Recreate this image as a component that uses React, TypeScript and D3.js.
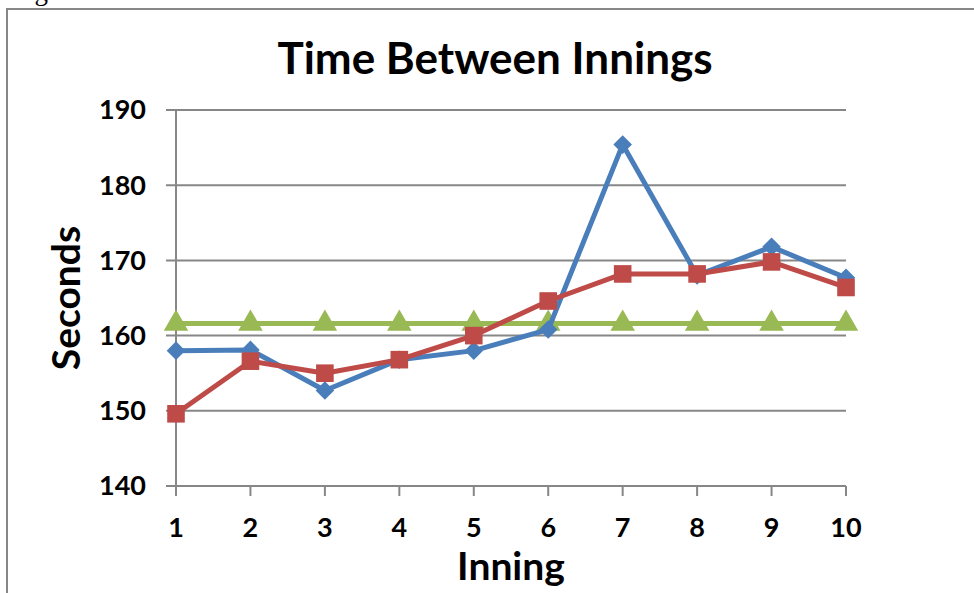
import * as d3 from "d3";
import { useEffect, useRef } from "react";

const innings = [1, 2, 3, 4, 5, 6, 7, 8, 9, 10];
const seriesA = [158.0, 158.1, 152.7, 156.8, 158.0, 160.8, 185.4, 168.0, 171.8, 167.7];
const seriesB = [149.6, 156.6, 155.0, 156.8, 160.0, 164.6, 168.2, 168.2, 169.8, 166.4];
const seriesAvg = [161.6, 161.6, 161.6, 161.6, 161.6, 161.6, 161.6, 161.6, 161.6, 161.6];
const yTicks = [140, 150, 160, 170, 180, 190];

const FONT = "Lato, 'Open Sans', sans-serif";
const GRID = "#878787";

const App = () => {
  const svgRef = useRef<SVGSVGElement>(null);

  useEffect(() => {
    const svgEl = svgRef.current;
    if (!svgEl) return;
    const svg = d3.select(svgEl);
    svg.selectAll("*").remove();

    const left = 176;
    const right = 846;
    const top = 110;
    const bottom = 486;

    const x = d3.scaleLinear().domain([1, 10]).range([left, right]);
    const y = d3.scaleLinear().domain([140, 190]).range([bottom, top]);

    // figure caption, cut off by the page top as in the source
    svg
      .append("text")
      .attr("x", 12)
      .attr("y", 0)
      .style("font", "27px 'Liberation Serif', serif")
      .attr("fill", "#000")
      .text("Figure 1.");

    // chart frame
    svg
      .append("rect")
      .attr("x", 7)
      .attr("y", 9)
      .attr("width", 990)
      .attr("height", 620)
      .attr("fill", "#fff")
      .attr("stroke", GRID)
      .attr("stroke-width", 2);

    // horizontal grid
    svg
      .selectAll("line.grid")
      .data(yTicks)
      .enter()
      .append("line")
      .attr("x1", left - 10)
      .attr("x2", right)
      .attr("y1", (t) => y(t))
      .attr("y2", (t) => y(t))
      .attr("stroke", GRID)
      .attr("stroke-width", 2);

    // y axis line
    svg
      .append("line")
      .attr("x1", left)
      .attr("x2", left)
      .attr("y1", top)
      .attr("y2", bottom)
      .attr("stroke", GRID)
      .attr("stroke-width", 2);

    // x tick marks
    svg
      .selectAll("line.xtick")
      .data(innings)
      .enter()
      .append("line")
      .attr("x1", (d) => x(d))
      .attr("x2", (d) => x(d))
      .attr("y1", bottom)
      .attr("y2", bottom + 10)
      .attr("stroke", GRID)
      .attr("stroke-width", 2);

    svg
      .selectAll("text.ytick")
      .data(yTicks)
      .enter()
      .append("text")
      .attr("x", 146)
      .attr("y", (t) => y(t))
      .attr("dy", "0.35em")
      .attr("text-anchor", "end")
      .style("font", `bold 27px ${FONT}`)
      .text((t) => String(t));

    svg
      .selectAll("text.xtick")
      .data(innings)
      .enter()
      .append("text")
      .attr("x", (d) => x(d))
      .attr("y", 537)
      .attr("text-anchor", "middle")
      .style("font", `bold 27px ${FONT}`)
      .text((d) => String(d));

    svg
      .append("text")
      .attr("x", 495)
      .attr("y", 74)
      .attr("text-anchor", "middle")
      .style("font", `bold 44px ${FONT}`)
      .text("Time Between Innings");

    svg
      .append("text")
      .attr("x", 511)
      .attr("y", 580)
      .attr("text-anchor", "middle")
      .style("font", `bold 39px ${FONT}`)
      .text("Inning");

    svg
      .append("text")
      .attr("transform", `translate(80,${(top + bottom) / 2}) rotate(-90)`)
      .attr("text-anchor", "middle")
      .style("font", `bold 39px ${FONT}`)
      .text("Seconds");

    const line = d3
      .line<number>()
      .x((_, i) => x(innings[i]))
      .y((v) => y(v));

    const series = [
      { values: seriesAvg, color: "#98b954", symbol: d3.symbolTriangle, size: 260 },
      { values: seriesA, color: "#4a7ebb", symbol: d3.symbolDiamond2, size: 220 },
      { values: seriesB, color: "#be4b48", symbol: d3.symbolSquare, size: 310 },
    ];

    series.forEach((s) => {
      const g = svg.append("g");
      g.append("path")
        .attr("d", line(s.values))
        .attr("fill", "none")
        .attr("stroke", s.color)
        .attr("stroke-width", 5)
        .attr("stroke-linejoin", "round");
      g.selectAll("path.marker")
        .data(s.values)
        .enter()
        .append("path")
        .attr("transform", (v, i) => `translate(${x(innings[i])},${y(v)})`)
        .attr("d", d3.symbol().type(s.symbol).size(s.size)())
        .attr("fill", s.color);
    });
  }, []);

  return (
    <svg
      ref={svgRef}
      width={974}
      height={593}
      style={{ position: "absolute", left: 0, top: 0, background: "#fff" }}
    />
  );
};

export default App;
